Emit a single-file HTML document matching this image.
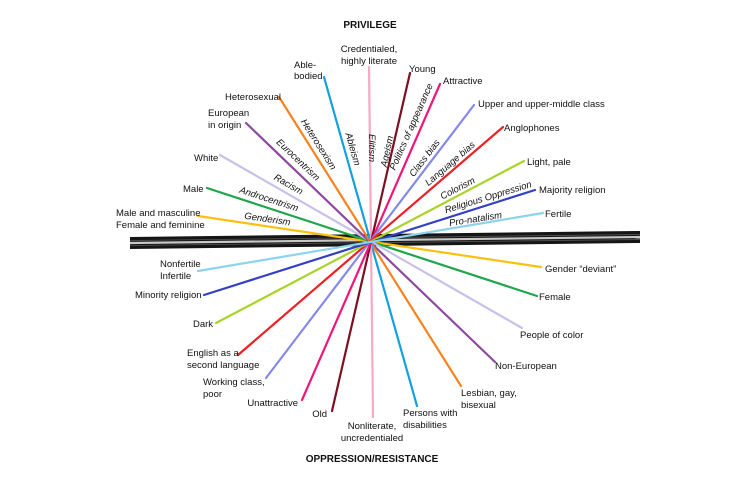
<!DOCTYPE html>
<html><head><meta charset="utf-8"><style>
html,body{margin:0;padding:0;background:#fff;}
svg{display:block;}
text{font-family:"Liberation Sans",sans-serif;font-size:9.5px;fill:#111;}
.t{font-weight:bold;font-family:"Liberation Sans",sans-serif;font-size:10px;}
.i{font-style:italic;}
</style></head><body>
<svg width="750" height="490" viewBox="0 0 750 490" xmlns="http://www.w3.org/2000/svg">
<polygon points="130,237 640,231 640,243 130,249" fill="#151515"/>
<line x1="130" y1="243" x2="640" y2="237" stroke="#c8c8c8" stroke-width="2.2"/>
<line x1="130" y1="240.5" x2="640" y2="234.5" stroke="#555" stroke-width="0.8"/>
<line x1="130" y1="245.5" x2="640" y2="239.5" stroke="#555" stroke-width="0.8"/>
<g stroke-width="2.2" stroke-linecap="round">
<line x1="198" y1="216" x2="541" y2="267" stroke="#fdc00f"/>
<line x1="207" y1="188" x2="537" y2="296" stroke="#1fa64a"/>
<line x1="220" y1="155" x2="522" y2="328" stroke="#c8c2ea"/>
<line x1="246" y1="123" x2="495" y2="362" stroke="#8e4a9c"/>
<line x1="279" y1="97" x2="461" y2="386" stroke="#f7821f"/>
<line x1="324" y1="77" x2="417" y2="406" stroke="#14a0e0"/>
<line x1="369" y1="67" x2="373" y2="417" stroke="#f7a9c6"/>
<line x1="410" y1="73" x2="332" y2="411" stroke="#7c1022"/>
<line x1="440" y1="84" x2="302" y2="400" stroke="#f01679"/>
<line x1="474" y1="105" x2="266" y2="378" stroke="#8589e9"/>
<line x1="503" y1="127" x2="238" y2="355" stroke="#ee2025"/>
<line x1="524" y1="161" x2="216" y2="323" stroke="#a8d42a"/>
<line x1="535" y1="190" x2="204" y2="295" stroke="#3440c4"/>
<line x1="543" y1="213" x2="198" y2="271" stroke="#8cd4ec"/>
</g>
<text class="t" x="370" y="28" text-anchor="middle">PRIVILEGE</text>
<text class="t" x="372" y="462" text-anchor="middle">OPPRESSION/RESISTANCE</text>
<text x="369" y="52" text-anchor="middle">Credentialed,</text>
<text x="369" y="64" text-anchor="middle">highly literate</text>
<text x="294" y="68">Able-</text><text x="294" y="79">bodied</text>
<text x="225" y="100">Heterosexual</text>
<text x="208" y="116">European</text><text x="208" y="128">in origin</text>
<text x="194" y="161">White</text>
<text x="183" y="192">Male</text>
<text x="116" y="216">Male and masculine</text><text x="116" y="228">Female and feminine</text>
<text x="409" y="72">Young</text>
<text x="443" y="84">Attractive</text>
<text x="478" y="107">Upper and upper-middle class</text>
<text x="504" y="131">Anglophones</text>
<text x="527" y="165">Light, pale</text>
<text x="539" y="193">Majority religion</text>
<text x="545" y="217">Fertile</text>
<text x="545" y="272">Gender “deviant”</text>
<text x="539" y="300">Female</text>
<text x="520" y="338">People of color</text>
<text x="495" y="369">Non-European</text>
<text x="461" y="396">Lesbian, gay,</text><text x="461" y="408">bisexual</text>
<text x="403" y="416">Persons with</text><text x="403" y="428">disabilities</text>
<text x="372" y="429" text-anchor="middle">Nonliterate,</text><text x="372" y="441" text-anchor="middle">uncredentialed</text>
<text x="327" y="417" text-anchor="end">Old</text>
<text x="298" y="406" text-anchor="end">Unattractive</text>
<text x="203" y="385">Working class,</text><text x="203" y="397">poor</text>
<text x="187" y="356">English as a</text><text x="187" y="368">second language</text>
<text x="193" y="327">Dark</text>
<text x="135" y="298">Minority religion</text>
<text x="160" y="267">Nonfertile</text><text x="160" y="279">Infertile</text>
<g>
<text class="i" transform="translate(350,150) rotate(74)" text-anchor="middle">Ableism</text>
<text class="i" transform="translate(369,148) rotate(90)" text-anchor="middle">Elitism</text>
<text class="i" transform="translate(390,152) rotate(-78)" text-anchor="middle">Ageism</text>
<text class="i" transform="translate(414,128) rotate(-66)" text-anchor="middle">Politics of appearance</text>
<text class="i" transform="translate(427,160) rotate(-52.6)" text-anchor="middle">Class bias</text>
<text class="i" transform="translate(452,166) rotate(-40.6)" text-anchor="middle">Language bias</text>
<text class="i" transform="translate(459,191) rotate(-27.5)" text-anchor="middle">Colorism</text>
<text class="i" transform="translate(489,200) rotate(-17)" text-anchor="middle">Religious Oppression</text>
<text class="i" transform="translate(476,222) rotate(-9)" text-anchor="middle">Pro-natalism</text>
<text class="i" transform="translate(316,146) rotate(57.7)" text-anchor="middle">Heterosexism</text>
<text class="i" transform="translate(296,162) rotate(43.6)" text-anchor="middle">Eurocentrism</text>
<text class="i" transform="translate(287,187) rotate(29.8)" text-anchor="middle">Racism</text>
<text class="i" transform="translate(268,202) rotate(18)" text-anchor="middle">Androcentrism</text>
<text class="i" transform="translate(267,222) rotate(8.3)" text-anchor="middle">Genderism</text>
</g>
</svg>
</body></html>
